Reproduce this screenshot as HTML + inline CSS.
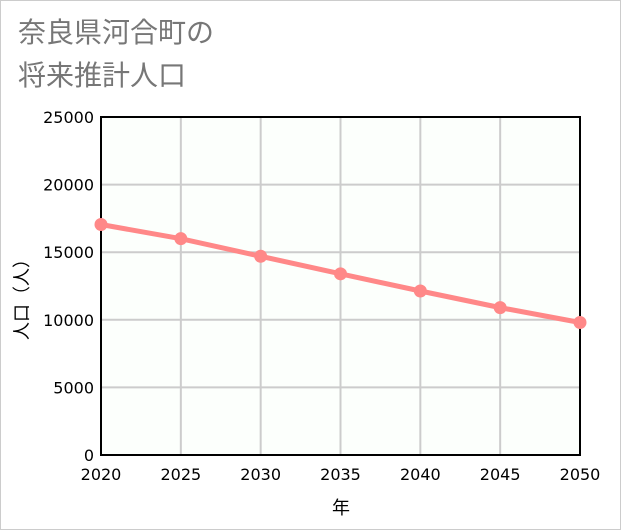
<!DOCTYPE html>
<html><head><meta charset="utf-8"><style>
body{margin:0;background:#fff;}
#wrap{position:relative;width:619px;height:528px;border:1px solid #ccc;background:#fff;font-family:"Liberation Sans","Noto Sans CJK JP",sans-serif;}
.title{position:absolute;left:17px;font-size:28px;color:#777;line-height:34px;}
</style></head><body>
<div id="wrap">
<div class="title" style="top:15px">奈良県河合町の</div>
<div class="title" style="top:58px">将来推計人口</div>
<svg id="chart" width="621" height="530" style="position:absolute;left:-1px;top:-1px"></svg>
</div>
<script>
const years=[2020,2025,2030,2035,2040,2045,2050];
const population=[17050,16000,14700,13400,12130,10900,9800];
const yTicks=[0,5000,10000,15000,20000,25000];
const xTicks=[2020,2025,2030,2035,2040,2045,2050];
const L=101,R=580,T=117,B=455;
const x=v=>L+(v-2020)/30*(R-L);
const y=v=>B-v/25000*(B-T);
const svg=document.getElementById('chart');
const NS='http://www.w3.org/2000/svg';
const TF='"DejaVu Sans",sans-serif';
function mk(t,a){const e=document.createElementNS(NS,t);for(const k in a)e.setAttribute(k,a[k]);svg.appendChild(e);return e;}
const bg=mk('rect',{x:L,y:T,width:R-L,height:B-T,fill:'#fcfffc'});


yTicks.forEach(v=>{
 const g=mk('line',{x1:L,x2:R,y1:y(v),y2:y(v),stroke:'#ccc','stroke-width':2});
 
 
 const t=mk('text',{x:L-7,y:y(v)+6,'text-anchor':'end','font-size':16,'font-family':TF,fill:'#000'});
 t.textContent=v;
 
 
});
xTicks.forEach(v=>{
 const g=mk('line',{x1:x(v),x2:x(v),y1:T,y2:B,stroke:'#ccc','stroke-width':2});
 
 
 const t=mk('text',{x:x(v),y:B+25,'text-anchor':'middle','font-size':16,'font-family':TF,fill:'#000'});
 t.textContent=v;
 
 
});
const fr=mk('rect',{x:L,y:T,width:R-L,height:B-T,fill:'none',stroke:'#000','stroke-width':2});


const ln=mk('polyline',{points:years.map((yr,i)=>x(yr)+','+y(population[i])).join(' '),fill:'none',stroke:'#f88','stroke-width':5});


years.forEach((yr,i)=>{
 const c=mk('circle',{cx:x(yr),cy:y(population[i]),r:6.5,fill:'#f88'});
 
 
});
const xt=mk('text',{x:341,y:514,'text-anchor':'middle','font-size':18,fill:'#000'});
xt.textContent='年';


const yt=mk('text',{x:0,y:0,'text-anchor':'middle','font-size':18,fill:'#000',transform:'translate(28,295) rotate(-90)'});
yt.textContent='人口（人）';


</script>
</body></html>
